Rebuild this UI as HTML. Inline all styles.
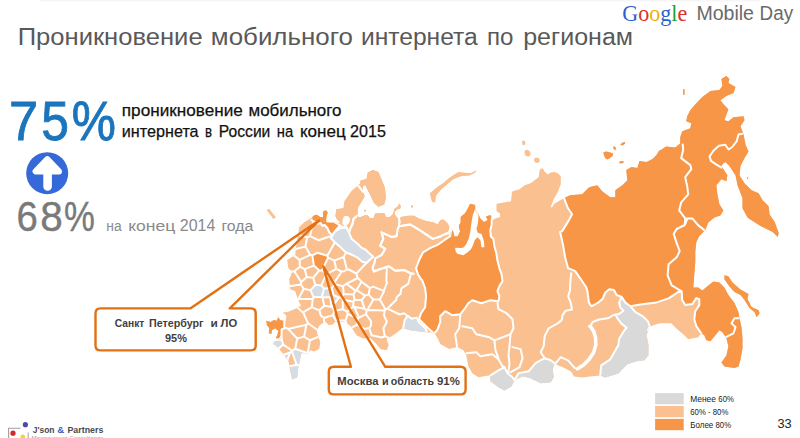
<!DOCTYPE html>
<html lang="ru">
<head>
<meta charset="utf-8">
<title>Проникновение мобильного интернета по регионам</title>
<style>
html,body{margin:0;padding:0;background:#fff;}
body{width:800px;height:438px;overflow:hidden;position:relative;font-family:"Liberation Sans",sans-serif;}
svg{position:absolute;left:0;top:0;display:block;}
text{font-family:"Liberation Sans",sans-serif;}
.serif{font-family:"Liberation Serif",serif;}
.lo{fill:#FAC090;}
.dk{fill:#F79646;}
.gr{fill:#D9D9D9;}
.bd{fill:none;stroke:#fff;stroke-width:2;stroke-linejoin:round;stroke-linecap:round;}
.bds{stroke:#fff;stroke-width:2;stroke-linejoin:round;}
</style>
</head>
<body>
<svg width="800" height="438" viewBox="0 0 800 438">
<rect x="0" y="0" width="800" height="438" fill="#ffffff"/>
<rect x="40" y="0" width="720" height="1.5" fill="#f6f6f6"/>

<!-- MAP-START -->
<g id="map" filter="url(#soft)">
<filter id="soft" x="250" y="60" width="550" height="340" filterUnits="userSpaceOnUse"><feGaussianBlur stdDeviation="0.45"/></filter>
<clipPath id="land"><path d="M313.3 215.8 L316.5 214.4 L320.4 216.9 L322.9 217.3 L323.2 214.5 L322.7 213.0 L323.6 211.1 L325.3 210.2 L327.0 211.1 L327.9 213.0 L326.9 215.0 L326.4 218.0 L326.3 222.2 L338.4 223.0 L340.5 222.3 L337.0 219.5 L335.4 216.0 L336.4 209.3 L343.5 208.3 L344.5 201.2 L351.5 191.2 L358.5 185.1 L360.3 183.2 L360.3 180.7 L366.6 178.8 L367.8 172.6 L372.9 170.0 L378.5 172.0 L381.7 180.0 L384.8 187.6 L386.0 197.7 L384.2 204.6 L378.5 206.7 L374.1 203.3 L371.0 196.4 L367.8 190.2 L365.3 185.1 L362.8 186.5 L362.8 191.4 L364.7 196.4 L360.9 202.7 L357.8 207.7 L357.5 214.3 L356.5 216.2 L360.0 217.2 L365.1 215.2 L367.6 215.2 L370.1 218.2 L373.6 218.2 L375.1 213.6 L384.2 213.1 L386.2 217.2 L389.2 217.2 L393.2 214.1 L394.2 209.1 L397.7 206.6 L399.2 203.6 L400.8 206.1 L400.3 208.6 L397.2 209.6 L394.7 212.1 L395.2 215.2 L398.2 218.7 L402.3 216.7 L408.3 215.7 L414.3 215.7 L418.3 218.2 L425.3 220.7 L434.0 222.6 L437.8 224.5 L440.3 220.1 L443.5 219.4 L447.9 223.8 L449.5 227.5 L447.5 232.7 L449.0 236.0 L450.7 234.0 L451.3 229.5 L453.2 231.4 L454.4 236.5 L457.6 236.5 L460.1 231.4 L458.8 225.8 L460.7 222.6 L460.7 217.0 L465.1 213.2 L468.3 207.6 L470.2 203.8 L475.2 205.0 L475.2 208.8 L476.5 212.0 L478.3 213.8 L480.2 218.2 L484.0 222.0 L487.7 220.1 L485.9 216.4 L490.3 215.1 L491.5 217.0 L490.5 219.5 L492.8 220.1 L495.9 218.2 L500.3 217.0 L499.7 213.2 L496.5 211.3 L496.5 203.8 L511.0 201.3 L511.6 195.0 L512.5 191.3 L519.5 189.3 L524.6 185.3 L530.6 183.3 L538.6 177.2 L539.6 170.2 L541.2 168.4 L543.0 168.6 L544.5 171.5 L547.7 174.5 L551.0 172.6 L554.2 171.9 L557.5 173.0 L560.8 176.2 L560.8 184.3 L557.7 192.3 L553.7 199.3 L551.5 205.0 L550.7 207.4 L552.3 207.0 L554.0 204.0 L559.7 200.4 L563.8 198.3 L570.0 195.2 L582.1 194.2 L589.1 187.2 L597.2 185.2 L602.2 191.2 L610.3 197.2 L615.3 197.2 L615.3 190.2 L622.3 185.2 L627.3 180.2 L626.3 170.1 L631.4 167.1 L637.4 168.1 L639.4 161.1 L646.4 162.1 L652.5 159.0 L656.5 155.0 L659.5 150.0 L660.1 150.4 L666.1 146.4 L675.2 147.4 L680.2 143.4 L680.2 137.3 L682.2 131.3 L690.3 128.3 L691.3 123.3 L686.2 121.3 L687.2 116.2 L690.3 110.2 L695.3 104.2 L702.3 97.1 L710.4 91.1 L719.4 90.1 L722.4 86.1 L721.4 79.0 L726.4 76.0 L729.4 79.0 L728.4 83.1 L735.5 87.1 L733.5 93.1 L726.4 96.1 L720.4 100.2 L724.4 105.2 L728.4 109.2 L724.4 120.3 L728.4 121.3 L733.5 117.2 L743.5 116.2 L744.5 120.3 L740.5 126.3 L743.5 134.3 L745.5 144.4 L748.5 151.4 L744.5 158.1 L740.5 166.1 L739.5 175.2 L744.5 183.2 L751.6 190.3 L758.6 193.3 L762.6 200.3 L768.6 206.3 L769.6 214.4 L774.7 222.1 L778.7 233.1 L777.7 237.1 L772.7 232.1 L760.6 226.1 L749.5 219.0 L747.5 217.4 L742.5 208.3 L742.5 198.3 L737.5 185.2 L735.5 175.2 L729.4 166.1 L725.4 162.1 L721.4 166.1 L727.4 175.2 L726.4 181.2 L721.4 179.2 L716.4 185.2 L717.4 194.3 L719.4 204.3 L723.4 210.4 L720.4 215.4 L714.4 217.4 L708.3 222.4 L705.3 230.1 L699.3 236.1 L696.3 242.2 L695.3 252.2 L695.3 262.3 L694.3 274.3 L693.3 287.4 L698.3 287.4 L702.3 290.4 L708.3 285.4 L713.4 281.4 L719.4 282.4 L724.4 287.4 L728.4 295.1 L734.5 303.1 L738.5 312.2 L739.5 318.2 L741.5 327.2 L742.5 338.3 L742.5 348.3 L740.5 359.4 L738.5 366.4 L734.5 368.0 L724.4 366.4 L721.4 362.4 L726.4 355.4 L728.4 346.3 L726.4 338.3 L722.4 332.3 L719.4 330.3 L715.4 335.3 L710.4 341.3 L706.3 340.3 L704.3 335.3 L701.3 333.3 L698.3 337.3 L688.2 339.3 L683.2 334.3 L677.2 329.2 L671.2 323.2 L660.1 323.2 L653.1 325.2 L649.4 327.1 L646.4 335.2 L648.4 344.2 L648.4 355.3 L644.4 360.3 L636.4 361.3 L627.3 364.3 L618.3 373.4 L605.2 377.4 L600.2 375.4 L590.2 376.4 L582.1 377.4 L574.1 376.4 L571.1 371.4 L562.8 367.2 L557.7 365.2 L554.7 363.2 L552.7 369.2 L553.7 377.3 L550.7 382.3 L540.7 383.3 L530.6 378.3 L522.6 376.3 L514.5 380.3 L511.5 386.3 L504.5 390.4 L498.4 387.3 L490.4 381.3 L490.4 375.3 L478.3 377.3 L472.3 373.3 L468.3 366.2 L466.3 355.2 L463.3 350.2 L457.2 347.1 L449.2 349.1 L440.2 344.1 L438.1 339.1 L434.1 332.8 L425.1 332.3 L410.0 330.3 L402.8 328.1 L394.7 334.2 L386.7 339.2 L388.7 345.2 L386.7 350.3 L380.7 349.2 L375.6 343.2 L370.6 338.2 L362.6 338.2 L356.5 335.2 L350.5 326.1 L344.5 322.1 L335.4 321.4 L332.9 324.5 L328.5 325.1 L325.4 321.4 L320.0 325.0 L316.6 330.2 L317.8 335.2 L319.7 340.2 L320.3 343.3 L319.1 349.0 L314.0 351.5 L310.3 350.3 L308.3 353.3 L301.3 353.3 L300.3 358.3 L298.2 368.3 L297.2 377.4 L292.2 379.4 L289.2 366.3 L289.2 364.3 L288.2 360.3 L284.2 355.3 L280.1 350.3 L277.0 346.5 L273.2 344.0 L274.5 341.5 L278.9 340.5 L281.4 337.7 L280.8 335.2 L278.9 338.3 L275.7 338.3 L277.6 334.5 L278.2 330.8 L275.1 328.3 L272.0 330.2 L271.3 333.9 L268.8 333.3 L269.4 328.3 L266.9 325.1 L266.3 320.7 L270.7 322.0 L273.8 320.1 L277.0 320.7 L278.2 317.0 L280.1 320.1 L282.6 320.7 L285.8 320.7 L286.4 315.7 L282.6 312.6 L287.7 311.9 L296.5 308.2 L299.0 306.3 L301.3 306.3 L298.2 300.3 L295.2 291.2 L290.2 289.2 L289.2 279.2 L292.2 272.1 L288.2 268.1 L287.2 260.1 L295.2 255.0 L296.2 246.0 L297.5 238.0 L298.2 234.4 L299.2 227.3 L304.3 222.3 L312.3 217.3ZM266.6 210.1 L269.1 208.8 L275.9 217.3 L273.4 219.1ZM476.3 170.2 L470.3 173.2 L458.2 172.2 L450.2 177.2 L443.2 183.3 L437.1 187.3 L430.1 193.3 L431.0 198.0 L432.1 201.4 L435.1 202.4 L435.5 198.0 L436.1 195.3 L441.2 189.3 L448.2 183.3 L453.2 179.2 L460.3 176.2 L470.3 175.2 L475.3 172.6ZM522.0 141.2 L524.0 140.6 L525.4 142.0 L525.2 144.6 L523.4 145.4 L522.2 144.0ZM524.6 150.6 L527.6 149.8 L530.0 151.6 L530.8 154.6 L528.8 156.6 L526.0 156.2 L524.6 153.6ZM534.6 158.0 L537.4 157.4 L539.6 159.0 L539.8 161.6 L537.6 163.0 L535.0 162.4 L534.0 160.4ZM603.4 152.6 L606.0 151.4 L609.5 152.2 L613.2 153.6 L612.6 156.0 L610.0 158.0 L607.5 159.6 L605.4 158.2 L604.0 155.5ZM613.2 146.8 L615.0 146.4 L616.0 148.6 L615.2 150.2 L613.6 149.0ZM620.2 144.6 L622.8 142.6 L625.2 142.0 L625.0 143.8 L622.4 145.4ZM619.4 161.4 L623.4 161.0 L623.4 163.0 L619.6 163.4ZM683.0 89.3 L684.4 89.0 L684.6 94.5 L683.2 95.0ZM364.3 209.8 L365.9 209.8 L365.9 211.6 L364.3 211.6ZM411.0 205.5 L413.0 205.5 L413.0 207.3 L411.0 207.3ZM747.0 177.5 L748.2 177.5 L748.2 179.0 L747.0 179.0ZM724.4 275.3 L728.4 276.3 L732.5 282.4 L740.5 289.4 L748.5 294.1 L747.5 299.1 L751.6 307.1 L758.6 310.2 L759.6 313.2 L756.6 317.2 L754.6 312.2 L749.5 308.1 L744.5 300.1 L740.5 295.1 L734.5 292.1 L729.4 286.4 L724.4 279.3Z"/></clipPath>
<clipPath id="wz"><path d="M250.0 190.0 L436.0 190.0 L436.0 400.0 L250.0 400.0Z"/></clipPath>
<g clip-path="url(#land)">
<rect x="250" y="60" width="550" height="340" class="lo"/>
<g clip-path="url(#wz)">
<path fill="#D6DCE3" d="M310.5 290.3 L315.3 284.8 L321.3 285.4 L324.1 288.5 L321.7 296.7 L313.6 297.2ZM321.7 296.7 L324.1 288.5 L331.8 288.0 L333.2 294.8 L330.4 297.1 L322.5 297.5ZM330.4 297.1 L333.2 294.8 L338.8 297.5 L332.0 307.2 L331.3 306.7ZM266.8 339.5 L278.6 328.3 L283.2 344.6 L275.0 352.0ZM274.3 357.8 L290.4 352.4 L285.8 363.8ZM296.6 364.8 L291.8 351.0 L292.0 350.5 L295.3 348.8 L307.7 353.2 L308.5 354.2 L301.1 366.6ZM279.9 386.1 L287.3 366.8 L296.6 364.8 L301.1 366.6 L303.9 374.5Z"/>
<path fill="#F79646" d="M312.3 255.4 L317.5 252.8 L327.3 255.8 L328.1 257.7 L322.0 270.4 L319.3 270.4 L313.9 265.6Z"/>
<path class="bd" d="M314.5 216.4 L310.0 236.1M310.0 236.1 L307.2 237.3M307.2 237.3 L291.2 232.7M334.9 234.8 L318.5 240.2M318.5 240.2 L310.0 236.1M305.4 246.6 L307.2 237.3M317.5 252.8 L312.3 255.4M312.3 255.4 L310.1 254.8M310.1 254.8 L305.4 246.6M337.7 237.2 L327.3 255.8M327.3 255.8 L317.5 252.8M305.4 246.6 L292.8 249.7M310.1 254.8 L299.6 259.9M299.6 259.9 L291.2 253.4M348.9 247.6 L343.7 257.0M343.7 257.0 L334.2 260.6M334.2 260.6 L328.1 257.7M328.1 257.7 L327.3 255.8M348.7 269.5 L346.9 269.5M346.9 269.5 L343.7 257.0M365.8 263.6 L356.4 273.5M356.4 273.5 L348.7 269.5M366.8 260.8 L365.8 263.6M328.1 257.7 L322.0 270.4M322.0 270.4 L319.3 270.4M319.3 270.4 L313.9 265.6M313.9 265.6 L312.3 255.4M299.6 259.9 L299.9 266.7M299.9 266.7 L294.4 271.2M294.4 271.2 L288.8 271.9M313.9 265.6 L304.6 269.1M304.6 269.1 L299.9 266.7M334.2 260.6 L336.3 268.9M336.3 268.9 L326.3 274.1M326.3 274.1 L322.0 270.4M346.9 269.5 L344.3 271.3M344.3 271.3 L341.7 271.5M341.7 271.5 L336.3 268.9M294.4 271.2 L301.3 282.1M301.3 282.1 L300.7 284.4M300.7 284.4 L287.5 286.4M304.6 269.1 L306.8 277.0M306.8 277.0 L301.3 282.1M319.3 270.4 L313.2 277.8M313.2 277.8 L306.8 277.0M313.2 277.8 L315.3 284.8M315.3 284.8 L310.5 290.3M310.5 290.3 L303.8 288.8M303.8 288.8 L300.7 284.4M326.3 274.1 L326.4 274.4M326.4 274.4 L321.3 285.4M321.3 285.4 L315.3 284.8M341.7 271.5 L334.4 282.4M334.4 282.4 L326.4 274.4M334.9 284.1 L343.0 286.2M343.0 286.2 L343.7 294.0M343.7 294.0 L341.7 297.5M341.7 297.5 L338.8 297.5M338.8 297.5 L333.2 294.8M333.2 294.8 L331.8 288.0M331.8 288.0 L334.9 284.1M343.0 286.2 L346.4 283.8M346.4 283.8 L355.5 290.6M355.5 290.6 L353.5 294.4M353.5 294.4 L343.7 294.0M355.5 290.6 L356.6 290.1M356.6 290.1 L365.1 295.6M365.1 295.6 L361.7 300.1M361.7 300.1 L354.5 299.8M354.5 299.8 L353.5 294.4M303.8 288.8 L298.3 299.0M298.3 299.0 L293.4 303.6M293.4 303.6 L291.6 303.3M310.5 290.3 L313.6 297.2M313.6 297.2 L312.7 299.0M312.7 299.0 L298.3 299.0M346.4 283.8 L346.4 283.8M334.9 284.1 L334.4 282.4M356.4 273.5 L357.7 278.0M357.7 278.0 L346.4 283.8M331.8 288.0 L324.1 288.5M324.1 288.5 L321.3 285.4M357.7 278.0 L361.6 281.6M361.6 281.6 L361.6 281.7M361.6 281.7 L356.6 290.1M368.6 294.6 L365.1 295.6M361.6 281.7 L369.9 288.1M369.9 288.1 L368.6 294.6M324.1 288.5 L321.7 296.7M321.7 296.7 L313.6 297.2M330.4 297.1 L322.5 297.5M322.5 297.5 L321.7 296.7M338.8 297.5 L332.0 307.2M332.0 307.2 L331.3 306.7M331.3 306.7 L330.4 297.1M353.4 301.7 L354.5 299.8M361.7 300.1 L364.6 308.8M364.6 308.8 L354.3 307.1M354.3 307.1 L353.2 306.7M353.2 306.7 L353.4 301.7M353.4 301.7 L342.8 299.8M342.8 299.8 L341.7 297.5M368.6 294.6 L373.4 299.5M373.4 299.5 L367.4 310.0M367.4 310.0 L366.6 310.6M366.6 310.6 L364.6 308.8M379.8 299.6 L373.4 299.5M369.9 288.1 L373.1 286.6M373.1 286.6 L383.8 290.9M383.8 290.9 L383.9 291.6M383.9 291.6 L379.8 299.6M379.8 299.6 L385.4 309.2M385.4 309.2 L384.7 310.5M384.7 310.5 L367.4 310.0M366.6 310.6 L366.1 314.2M366.1 314.2 L359.0 317.6M359.0 317.6 L354.3 307.1M386.8 269.0 L386.3 281.2M386.3 281.2 L387.0 282.5M387.0 282.5 L383.8 290.9M411.5 271.8 L408.2 283.9M408.2 283.9 L401.4 288.4M401.4 288.4 L400.4 293.9M400.4 293.9 L397.0 296.8M397.0 296.8 L396.3 299.7M396.3 299.7 L387.3 308.7M387.3 308.7 L385.4 309.2M404.2 313.2 L399.8 314.5M399.8 314.5 L387.4 308.6M409.3 317.7 L404.2 313.2M384.7 310.5 L384.0 315.4M371.0 321.2 L366.1 314.2M384.0 315.4 L386.9 321.8M386.9 321.8 L383.4 328.5M370.9 325.6 L371.0 321.2M371.6 335.3 L369.2 328.1M369.2 328.1 L370.9 325.6M383.4 328.5 L384.8 336.1M384.8 336.1 L381.8 337.5M381.8 337.5 L371.6 335.3M391.5 339.2 L384.8 336.1M364.3 328.9 L369.2 328.1M348.0 330.5 L348.4 329.6M348.4 329.6 L356.9 324.7M356.9 324.7 L364.3 328.9M312.7 299.0 L311.8 307.1M311.8 307.1 L303.2 312.3M303.2 312.3 L302.1 311.9M302.1 311.9 L293.4 303.6M286.0 328.0 L279.0 327.3M303.2 312.3 L308.0 323.2M308.0 323.2 L306.4 324.8M306.4 324.8 L288.0 328.9M288.0 328.9 L286.0 328.0M311.8 307.1 L319.3 310.3M319.3 310.3 L320.9 315.6M308.1 323.2 L308.0 323.2M320.9 315.6 L324.0 318.0M324.0 318.0 L324.0 333.5M323.0 334.0 L308.1 323.2M332.0 307.2 L334.5 310.8M334.5 310.8 L332.9 315.1M332.9 315.1 L324.0 318.0M319.3 310.3 L324.3 305.7M324.3 305.7 L331.3 306.7M342.8 309.2 L347.2 311.8M347.2 311.8 L347.7 314.0M347.7 314.0 L345.4 320.6M345.4 320.6 L335.7 320.3M335.7 320.3 L332.9 315.1M334.5 310.8 L342.8 309.2M359.0 317.6 L358.0 318.3M358.0 318.3 L347.7 314.0M347.2 311.8 L353.2 306.7M356.9 324.7 L358.0 318.3M342.8 309.2 L342.8 299.8M322.5 297.5 L324.3 305.7M348.4 329.6 L345.4 320.6M288.0 328.9 L297.2 338.5M297.2 338.5 L295.3 348.8M295.3 348.8 L292.0 350.5M292.0 350.5 L283.2 344.6M283.2 344.6 L278.6 328.3M297.2 338.5 L304.1 336.6M304.1 336.6 L310.0 340.3M310.0 340.3 L307.7 353.2M307.7 353.2 L295.3 348.8M310.0 340.3 L322.2 335.4M308.5 354.2 L307.7 353.2M304.1 336.6 L306.4 324.8M275.0 352.0 L283.2 344.6M292.0 350.5 L291.8 351.0M291.8 351.0 L290.3 352.5M290.3 352.5 L274.3 357.8M285.8 363.8 L290.4 352.4M291.8 351.0 L296.6 364.8M296.6 364.8 L287.3 366.8M301.1 366.6 L296.6 364.8"/>
</g>
<path class="lo" d="M335.0 150.0 L470.0 150.0 L470.0 276.0 L413.5 273.8 L410.3 273.2 L404.0 270.0 L395.3 270.7 L389.0 266.3 L385.2 267.5 L379.0 269.5 L373.9 271.5 L372.6 267.7 L374.5 262.7 L375.2 258.3 L373.3 256.8 L360.0 250.0 L345.0 240.0 L338.0 232.0 L342.2 227.0 L338.5 224.5 L335.3 222.6 L335.0 218.0Z"/>
<path class="gr" d="M490.4 375.3 L498.4 370.3 L504.5 367.2 L507.5 373.3 L512.5 377.3 L514.5 380.3 L512.0 392.0 L489.0 392.0 L489.0 376.0ZM514.5 380.3 L518.5 373.3 L528.6 371.3 L535.6 363.2 L544.7 358.2 L550.7 360.2 L554.7 363.2 L556.0 375.0 L553.0 386.0 L530.0 386.0ZM621.6 296.9 L619.1 302.6 L620.3 307.6 L623.5 310.7 L619.1 313.9 L615.3 314.5 L617.8 318.9 L621.6 323.9 L626.6 327.7 L622.8 332.7 L619.1 339.0 L618.4 345.0 L610.3 359.3 L601.2 365.3 L600.2 375.4 L602.0 380.0 L620.0 380.0 L650.0 362.0 L651.0 344.0 L648.0 335.0 L648.0 330.2 L649.8 326.4 L648.0 321.4 L642.9 316.4 L635.4 312.0 L630.4 306.3 L625.4 302.6Z"/>
<path class="bd" d="M311.5 220.0 L313.2 221.2 L318.3 223.6 L320.6 223.0 L322.4 225.8 L324.6 224.9 L327.4 228.0 L329.4 232.4 L332.3 234.9 L335.6 230.4 L339.8 225.7 L338.5 224.5M358.4 185.8 L360.5 188.5 L362.8 191.4M356.5 216.2 L353.5 219.0 L352.5 224.0 L350.5 228.0 L349.0 232.6M335.3 222.6 L338.5 224.5 L342.2 227.0 L346.6 227.6M373.9 271.5 L372.6 267.7 L374.5 262.7 L375.2 258.3 L381.4 255.2 L385.2 248.9 L380.2 245.7 L383.3 238.8 L381.5 232.3 L387.6 235.2 L391.5 236.9 L396.5 236.3 L397.5 230.0 L399.0 226.0 L402.0 225.7 L410.2 224.5 L417.7 228.9 L425.3 233.9 L432.9 238.8 L439.1 237.0 L445.0 234.2 L450.4 232.0M399.0 226.0 L399.5 221.0 L398.8 218.5M373.9 271.5 L379.0 269.5 L385.2 267.5 L389.0 266.3 L395.3 270.7 L404.0 270.0 L410.3 273.2 L413.5 273.8"/>
<path fill="#D6DCE3" class="bds" d="M334.6 232.0 L340.3 228.2 L346.6 227.6 L349.0 232.6 L351.6 238.9 L358.0 244.0 L361.3 247.6 L365.4 249.5 L370.1 253.9 L373.3 256.8 L370.1 259.5 L367.0 262.7 L362.6 262.0 L357.6 257.7 L351.3 254.5 L345.3 252.0 L340.3 247.1 L335.3 242.7 L330.9 238.3ZM404.7 320.1 L407.8 315.7 L411.6 318.8 L416.6 317.6 L419.1 322.6 L425.4 328.3 L426.7 331.4 L425.0 334.0 L412.8 333.0 L403.0 332.0 L403.4 326.4Z"/>
<path class="dk" d="M451.2 229.1 L450.2 236.2 L444.2 240.2 L437.1 245.2 L430.1 248.2 L423.1 252.3 L419.0 260.3 L416.0 268.3 L418.0 274.4 L421.1 279.4 L422.1 280.0 L425.1 288.1 L426.1 296.1 L425.1 307.2 L421.1 313.2 L419.0 319.2 L428.1 328.3 L434.1 333.5 L437.1 330.3 L440.2 322.3 L440.2 316.2 L445.2 311.2 L452.2 315.2 L460.3 314.2 L464.3 309.2 L468.3 303.2 L472.3 300.2 L481.4 303.2 L490.4 300.2 L498.4 301.2 L499.4 296.1 L497.4 291.1 L499.4 286.1 L502.5 281.1 L501.5 274.0 L499.4 268.3 L497.4 260.3 L496.4 253.3 L494.4 246.2 L493.4 239.0 L490.9 236.5 L490.3 230.2 L491.6 225.0 L491.8 219.0 L491.8 200.0 L452.5 200.0 L452.5 228.0ZM564.0 190.0 L564.0 198.2 L568.0 208.3 L572.1 214.3 L567.0 223.4 L562.0 231.4 L560.1 232.0 L563.1 245.1 L565.1 257.2 L568.1 268.2 L575.2 271.2 L580.2 278.3 L586.2 287.3 L587.4 291.0 L588.9 302.6 L591.4 306.3 L598.3 302.6 L602.7 298.8 L605.3 292.5 L609.3 289.3 L614.0 290.0 L616.6 295.0 L621.6 296.9 L625.4 302.6 L630.4 306.3 L640.4 304.6 L656.6 302.4 L668.6 298.4 L677.7 292.3 L681.7 291.3 L671.7 285.3 L667.6 275.3 L668.6 264.2 L676.7 257.2 L679.7 251.1 L676.7 243.1 L673.7 234.0 L676.7 229.0 L684.7 225.0 L685.2 218.4 L679.2 210.4 L681.2 202.3 L688.2 194.3 L687.2 186.2 L685.2 177.2 L691.3 169.1 L690.3 165.1 L681.2 158.1 L683.2 150.1 L682.2 140.0 L682.2 130.0 L640.0 134.0 L598.0 136.0 L560.0 170.0ZM682.2 60.0 L682.2 140.0 L683.2 150.1 L681.2 158.1 L690.3 165.1 L691.3 169.1 L685.2 177.2 L687.2 186.2 L688.2 194.3 L681.2 202.3 L679.2 210.4 L685.2 218.4 L684.7 225.0 L676.7 229.0 L673.7 234.0 L676.7 243.1 L679.7 251.1 L676.7 257.2 L668.6 264.2 L667.6 275.3 L671.7 285.3 L677.7 292.3 L681.7 291.3 L682.2 300.1 L685.2 305.1 L692.3 304.1 L696.3 298.1 L699.3 299.1 L699.3 305.1 L695.3 311.2 L694.3 319.2 L696.3 326.2 L701.3 333.3 L696.0 345.0 L700.0 400.0 L800.0 400.0 L800.0 60.0Z"/>
<path class="dk bds" d="M264.0 315.0 L284.5 315.0 L284.2 328.3 L281.6 329.5 L281.5 340.0 L264.0 340.0Z"/>
<path class="dk" d="M312.0 216.5 L313.3 215.5 L316.5 214.3 L320.4 216.8 L322.8 217.2 L323.1 214.5 L322.6 213.0 L323.5 211.0 L325.3 210.0 L327.1 211.0 L328.0 213.0 L327.0 215.0 L326.5 218.0 L326.4 222.0 L328.3 222.4 L337.8 222.6 L339.8 225.7 L335.6 230.4 L332.3 234.9 L329.4 232.4 L327.4 228.0 L324.6 224.9 L322.4 225.8 L320.6 223.0 L318.3 223.6 L313.2 221.2Z"/>
<path class="bd" d="M451.2 229.1 L450.2 236.2 L444.2 240.2 L437.1 245.2 L430.1 248.2 L423.1 252.3 L419.0 260.3 L416.0 268.3 L418.0 274.4 L421.1 279.4 L422.1 280.0 L425.1 288.1 L426.1 296.1 L425.1 307.2 L421.1 313.2 L419.0 319.2 L428.1 328.3 L434.1 333.5M434.1 333.5 L437.1 330.3 L440.2 322.3 L440.2 316.2 L445.2 311.2 L452.2 315.2 L460.3 314.2 L464.3 309.2 L468.3 303.2 L472.3 300.2 L481.4 303.2 L490.4 300.2 L498.4 301.2 L499.4 296.1 L497.4 291.1 L499.4 286.1 L502.5 281.1 L501.5 274.0 L499.4 268.3 L497.4 260.3 L496.4 253.3 L494.4 246.2 L493.4 239.0 L490.9 236.5 L490.3 230.2 L491.6 225.0 L491.8 219.0M460.3 315.2 L459.2 328.3 L455.2 334.3 L457.2 347.4M462.3 326.3 L472.3 328.3 L476.3 334.3 L489.4 337.3 L494.4 340.4 L510.5 334.3 L513.5 328.3 L512.5 319.2 L506.5 313.2 L498.4 309.2 L497.4 302.2M466.3 353.2 L476.3 352.2 L480.4 356.2 L492.4 354.2 L498.4 359.2 L502.5 366.2 L504.5 367.2M494.4 340.4 L495.4 350.0 L498.4 358.2M510.5 334.3 L509.5 346.1 L508.5 355.2 L509.5 364.2 L508.5 371.3 L507.5 373.3M512.5 347.1 L520.6 349.1 L522.6 358.2 L519.5 367.2 L510.5 372.3M490.4 375.3 L498.4 370.3 L504.5 367.2 L507.5 373.3 L512.5 377.3 L514.5 380.3 L518.5 373.3 L528.6 371.3 L535.6 363.2 L544.7 358.2 L550.7 360.2 L554.7 363.2M571.2 273.2 L570.2 283.3 L570.1 290.0 L568.2 296.3 L570.7 302.6 L572.0 309.5 L565.7 310.7 L562.5 315.1 L561.9 319.5 L558.8 322.7 L554.7 325.0 L548.7 328.3 L544.7 336.1 L543.7 346.1 L540.7 352.2 L544.7 358.2M555.7 363.2 L560.8 357.2 L568.0 360.3 L575.1 368.3M564.0 198.2 L568.0 208.3 L572.1 214.3 L567.0 223.4 L562.0 231.4 L560.1 232.0 L563.1 245.1 L565.1 257.2 L568.1 268.2 L575.2 271.2 L580.2 278.3 L586.2 287.3 L587.4 291.0 L588.9 302.6 L591.4 306.3 L598.3 302.6 L602.7 298.8 L605.3 292.5 L609.3 289.3 L614.0 290.0 L616.6 295.0 L621.6 296.9 L625.4 302.6 L630.4 306.3 L640.4 304.6 L656.6 302.4 L668.6 298.4 L677.7 292.3 L681.7 291.3 L671.7 285.3 L667.6 275.3 L668.6 264.2 L676.7 257.2 L679.7 251.1 L676.7 243.1 L673.7 234.0 L676.7 229.0 L684.7 225.0 L685.2 218.4 L679.2 210.4 L681.2 202.3 L688.2 194.3 L687.2 186.2 L685.2 177.2 L691.3 169.1 L690.3 165.1 L681.2 158.1 L683.2 150.1 L682.7 144.4M685.2 218.4 L692.3 218.4 L698.3 225.4 L704.3 230.1M684.7 225.0 L687.2 219.0M742.5 133.8 L738.5 134.6 L736.6 141.4 L732.2 147.0 L728.5 149.5 L725.3 144.7 L719.0 145.8 L713.4 150.8 L709.6 156.4 L710.9 160.8 L716.5 164.6 L721.6 167.7 L724.3 163.8M681.7 291.3 L682.2 300.1 L685.2 305.1 L692.3 304.1 L696.3 298.1 L699.3 299.1 L699.3 305.1 L695.3 311.2 L694.3 319.2 L696.3 326.2 L701.3 333.3M739.5 318.2 L734.5 318.2 L731.5 323.2 L735.5 327.2 L733.5 333.3 L725.4 337.3M621.6 296.9 L619.1 302.6 L620.3 307.6 L623.5 310.7 L619.1 313.9 L615.3 314.5 L617.8 318.9 L621.6 323.9 L626.6 327.7 L622.8 332.7 L619.1 339.0 L618.4 345.0 L610.3 359.3 L601.2 365.3 L600.2 375.4M630.4 306.3 L635.4 312.0 L642.9 316.4 L648.0 321.4 L649.8 326.4 L648.0 330.2M588.9 326.4 L590.8 325.2 L592.7 322.0 L599.0 319.5 L607.8 318.3 L613.4 315.1 L615.3 314.5M311.5 220.0 L313.2 221.2 L318.3 223.6 L320.6 223.0 L322.4 225.8 L324.6 224.9 L327.4 228.0 L329.4 232.4 L332.3 234.9 L335.6 230.4 L339.8 225.7 L338.5 224.5M358.4 185.8 L360.5 188.5 L362.8 191.4M356.5 216.2 L353.5 219.0 L352.5 224.0 L350.5 228.0 L349.0 232.6M335.3 222.6 L338.5 224.5 L342.2 227.0 L346.6 227.6M373.9 271.5 L372.6 267.7 L374.5 262.7 L375.2 258.3 L381.4 255.2 L385.2 248.9 L380.2 245.7 L383.3 238.8 L381.5 232.3 L387.6 235.2 L391.5 236.9 L396.5 236.3 L397.5 230.0 L399.0 226.0 L402.0 225.7 L410.2 224.5 L417.7 228.9 L425.3 233.9 L432.9 238.8 L439.1 237.0 L445.0 234.2 L450.4 232.0M399.0 226.0 L399.5 221.0 L398.8 218.5M373.9 271.5 L379.0 269.5 L385.2 267.5 L389.0 266.3 L395.3 270.7 L404.0 270.0 L410.3 273.2 L413.5 273.8"/>
<path d="M590.5 326.5 L593.8 331.5 L595.6 338.0 L595.8 345.0 L593.6 352.5 L589.0 359.5 L583.5 365.0 L577.5 368.8" fill="none" stroke="#fff" stroke-width="3.6" stroke-linecap="round" stroke-linejoin="round"/>
<path fill="#fff" d="M475.2 208.8 L472.8 215.1 L471.5 222.6 L470.3 231.4 L469.0 237.7 L466.5 243.8 L463.9 247.3 L461.3 248.0 L455.2 247.8 L455.5 251.0 L457.2 253.8 L463.3 255.2 L467.3 252.6 L470.8 249.6 L473.0 245.3 L474.6 240.4 L477.3 237.2 L480.4 240.2 L481.4 247.2 L484.4 247.2 L484.0 242.0 L483.4 239.2 L481.5 233.9 L477.8 232.7 L476.5 228.9 L477.8 223.9 L478.4 217.6 L478.6 213.8 L476.5 212.0ZM344.0 216.3 L347.8 215.7 L350.3 218.8 L349.0 223.2 L345.3 226.4 L342.2 223.8 L342.8 219.4Z"/>
</g>
</g>
<!-- MAP-END -->

<!-- TEXT-START -->
<text y="44.9" font-size="23" fill="#595959"><tspan x="17.71" textLength="184.91" lengthAdjust="spacingAndGlyphs">Проникновение</tspan> <tspan x="210.89" textLength="142.03" lengthAdjust="spacingAndGlyphs">мобильного</tspan> <tspan x="360.91" textLength="116.81" lengthAdjust="spacingAndGlyphs">интернета</tspan> <tspan x="486.94" textLength="26.45" lengthAdjust="spacingAndGlyphs">по</tspan> <tspan x="523.20" textLength="109.82" lengthAdjust="spacingAndGlyphs">регионам</tspan></text>
<text y="140.0" font-size="55.5" fill="#1b75bc" stroke="#1b75bc" stroke-width="0.9"><tspan x="9.08" textLength="29.17" lengthAdjust="spacingAndGlyphs">7</tspan><tspan x="41.26" textLength="27.69" lengthAdjust="spacingAndGlyphs">5</tspan><tspan x="71.77" textLength="44.15" lengthAdjust="spacingAndGlyphs">%</tspan></text>
<text y="116.2" font-size="17.2" fill="#111111" stroke="#111111" stroke-width="0.25"><tspan x="121.83" textLength="120.92" lengthAdjust="spacingAndGlyphs">проникновение</tspan> <tspan x="248.53" textLength="92.99" lengthAdjust="spacingAndGlyphs">мобильного</tspan></text>
<text y="137.2" font-size="17.2" fill="#111111" stroke="#111111" stroke-width="0.25"><tspan x="121.84" textLength="76.77" lengthAdjust="spacingAndGlyphs">интернета</tspan> <tspan x="204.88" textLength="7.04" lengthAdjust="spacingAndGlyphs">в</tspan> <tspan x="218.85" textLength="51.49" lengthAdjust="spacingAndGlyphs">России</tspan> <tspan x="276.86" textLength="16.43" lengthAdjust="spacingAndGlyphs">на</tspan> <tspan x="299.93" textLength="45.81" lengthAdjust="spacingAndGlyphs">конец</tspan> <tspan x="350.05" textLength="35.84" lengthAdjust="spacingAndGlyphs" font-size="16.4">2015</tspan></text>
<text y="231.0" font-size="42.5" fill="#7a7a7a" stroke="#7a7a7a" stroke-width="0.4"><tspan x="16.60" textLength="21.31" lengthAdjust="spacingAndGlyphs">6</tspan><tspan x="40.31" textLength="22.53" lengthAdjust="spacingAndGlyphs">8</tspan><tspan x="63.91" textLength="30.85" lengthAdjust="spacingAndGlyphs">%</tspan></text>
<text y="231.0" font-size="15.4" fill="#8a8a8a"><tspan x="106.25" textLength="15.33" lengthAdjust="spacingAndGlyphs">на</tspan> <tspan x="128.19" textLength="47.08" lengthAdjust="spacingAndGlyphs">конец</tspan> <tspan x="179.76" textLength="35.53" lengthAdjust="spacingAndGlyphs" font-size="15.8">2014</tspan> <tspan x="221.41" textLength="31.91" lengthAdjust="spacingAndGlyphs">года</tspan></text>
<text y="326.7" font-size="11.2" fill="#404040" font-weight="bold"><tspan x="114.84" textLength="29.45" lengthAdjust="spacingAndGlyphs">Санкт</tspan> <tspan x="148.94" textLength="54.59" lengthAdjust="spacingAndGlyphs">Петербург</tspan> <tspan x="210.42" textLength="7.31" lengthAdjust="spacingAndGlyphs">и</tspan> <tspan x="220.50" textLength="16.65" lengthAdjust="spacingAndGlyphs">ЛО</tspan></text>
<text y="342.1" font-size="11.2" fill="#404040" font-weight="bold"><tspan x="164.96" textLength="21.92" lengthAdjust="spacingAndGlyphs">95%</tspan></text>
<text y="385.3" font-size="11" fill="#404040" font-weight="bold"><tspan x="337.33" textLength="41.13" lengthAdjust="spacingAndGlyphs">Москва</tspan> <tspan x="382.04" textLength="6.62" lengthAdjust="spacingAndGlyphs">и</tspan> <tspan x="390.84" textLength="43.14" lengthAdjust="spacingAndGlyphs">область</tspan> <tspan x="436.94" textLength="22.90" lengthAdjust="spacingAndGlyphs">91%</tspan></text>
<text y="402.1" font-size="8.8" fill="#1a1a1a"><tspan x="690.23" textLength="25.70" lengthAdjust="spacingAndGlyphs">Менее</tspan> <tspan x="718.36" textLength="15.56" lengthAdjust="spacingAndGlyphs">60%</tspan></text>
<text y="415.0" font-size="8.8" fill="#1a1a1a"><tspan x="690.26" textLength="15.56" lengthAdjust="spacingAndGlyphs">60%</tspan> <tspan x="708.33" textLength="1.99" lengthAdjust="spacingAndGlyphs">-</tspan> <tspan x="712.76" textLength="15.56" lengthAdjust="spacingAndGlyphs">80%</tspan></text>
<text y="427.7" font-size="8.8" fill="#1a1a1a"><tspan x="690.23" textLength="23.07" lengthAdjust="spacingAndGlyphs">Более</tspan> <tspan x="715.56" textLength="15.56" lengthAdjust="spacingAndGlyphs">80%</tspan></text>
<text y="427.5" font-size="12" fill="#222222"><tspan x="777.51" textLength="14.18" lengthAdjust="spacingAndGlyphs">33</tspan></text>
<text y="19.9" font-size="20" fill="#6a6a6a"><tspan x="696.40" textLength="57.57" lengthAdjust="spacingAndGlyphs">Mobile</tspan> <tspan x="759.60" textLength="33.57" lengthAdjust="spacingAndGlyphs">Day</tspan></text>
<text y="433.3" font-size="8.4" fill="#4a4a4a" font-weight="bold"><tspan x="32.71" textLength="21.78" lengthAdjust="spacingAndGlyphs">J'son</tspan> <tspan x="57.20" textLength="6.94" lengthAdjust="spacingAndGlyphs" fill="#3a5bb5">&amp;</tspan> <tspan x="67.40" textLength="35.97" lengthAdjust="spacingAndGlyphs">Partners</tspan></text>
<!-- TEXT-END -->
<!-- header -->
<text class="serif" x="622.3" y="20.5" font-size="23.3" textLength="65" lengthAdjust="spacingAndGlyphs"><tspan fill="#2b5fd0">G</tspan><tspan fill="#d8342a">o</tspan><tspan fill="#eeb211">o</tspan><tspan fill="#2b5fd0">g</tspan><tspan fill="#1f9d3a">l</tspan><tspan fill="#d8342a">e</tspan></text>

<!-- title -->

<!-- 75% -->

<!-- arrow badge -->
<circle cx="47.2" cy="173.2" r="21" fill="#3568d8"/>
<path d="M47.3 159.2 L35.6 171.4 L59 171.4 Z" fill="#fff" stroke="#fff" stroke-width="6" stroke-linejoin="round"/>
<line x1="47.6" y1="168" x2="47.6" y2="186.4" stroke="#fff" stroke-width="8.6" stroke-linecap="round"/>

<!-- 68% -->

<!-- callout 1 -->
<path d="M190.3 308.4 L319 220.5 L229.8 308.4 L250.7 308.4 Q255.7 308.4 255.7 313.4 L255.7 345.4 Q255.7 350.4 250.7 350.4 L100.5 350.4 Q95.5 350.4 95.5 345.4 L95.5 313.4 Q95.5 308.4 100.5 308.4 Z" fill="none" stroke="#E37113" stroke-width="2.4" stroke-linejoin="round"/>

<!-- callout 2 -->
<path d="M350.9 366.8 L323.3 266.4 L385.3 366.8 L460.6 366.8 Q465.6 366.8 465.6 371.8 L465.6 389.4 Q465.6 394.4 460.6 394.4 L333.8 394.4 Q328.8 394.4 328.8 389.4 L328.8 371.8 Q328.8 366.8 333.8 366.8 Z" fill="none" stroke="#E37113" stroke-width="2.4" stroke-linejoin="round"/>

<!-- legend -->
<rect x="655.1" y="393.1" width="28.6" height="11.2" fill="#D9D9D9"/>
<rect x="655.1" y="406" width="28.6" height="11.2" fill="#FAC090"/>
<rect x="655.1" y="418.9" width="28.6" height="11.3" fill="#F79646"/>

<!-- footer logo -->
<path d="M20.6 428.2 L8.6 428.2 L8.6 438" fill="none" stroke="#a0a0a0" stroke-width="1.1"/>
<line x1="28.2" y1="432.5" x2="28.2" y2="438" stroke="#a0a0a0" stroke-width="1"/>
<circle cx="13" cy="433.2" r="2.6" fill="#d02a2a"/>
<circle cx="25.4" cy="424.7" r="2.6" fill="#4a4aa8"/>
<circle cx="22.7" cy="436.8" r="2.3" fill="#e8d83a"/>
<text x="31.6" y="439.7" font-size="6" fill="#a0a0a0" textLength="71.5" lengthAdjust="spacingAndGlyphs">Management Consultancy</text>
</svg>
</body>
</html>
